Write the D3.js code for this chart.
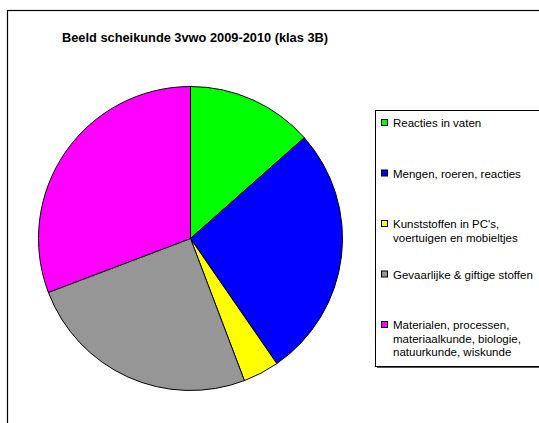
<!DOCTYPE html>
<html lang="nl">
<head>
  <meta charset="utf-8">
  <script src="https://d3js.org/d3.v7.min.js"></script>
  <style>
    body { margin: 0; background: #fff; }
    text { font-family: "Liberation Sans", Arial, sans-serif; fill: #000; }
  </style>
</head>
<body>
  <svg id="chart" width="539" height="423"></svg>

  <script>
    // data
    const title = "Beeld scheikunde 3vwo 2009-2010 (klas 3B)";
    const categories = [
      ["Reacties in vaten"],
      ["Mengen, roeren, reacties"],
      ["Kunststoffen in PC's,", "voertuigen en mobieltjes"],
      ["Gevaarlijke & giftige stoffen"],
      ["Materialen, processen,", "materiaalkunde, biologie,", "natuurkunde, wiskunde"]
    ];
    const values = [7, 14, 2, 13, 16];
    const colors = ["#00ff00", "#0000ff", "#ffff00", "#969696", "#ff00ff"];

    const svg = d3.select("svg#chart");

    // outer chart frame (runs off the right and bottom edge)
    svg.append("rect")
      .attr("x", 7.5).attr("y", 10.5)
      .attr("width", 600).attr("height", 500)
      .attr("fill", "#fff")
      .attr("stroke", "#000")
      .attr("stroke-width", 1.2);

    svg.append("text")
      .attr("x", 62)
      .attr("y", 42)
      .attr("font-size", 12.8)
      .attr("font-weight", "bold")
      .text(title);

    // pie
    const cx = 190.5, cy = 238.5, r = 152;
    const pie = d3.pie().sort(null).value(d => d);
    const arc = d3.arc().innerRadius(0).outerRadius(r);

    svg.append("g")
      .attr("transform", "translate(" + cx + "," + cy + ")")
      .selectAll("path")
      .data(pie(values))
      .join("path")
      .attr("d", arc)
      .attr("fill", (d, i) => colors[i])
      .attr("stroke", "#000")
      .attr("stroke-width", 1)
      .attr("stroke-linejoin", "round");

    // legend box with a small shadow at the bottom
    const lg = svg.append("g");
    lg.append("rect")
      .attr("x", 377).attr("y", 112)
      .attr("width", 300).attr("height", 256)
      .attr("fill", "#555");
    lg.append("rect")
      .attr("x", 375.5).attr("y", 110.5)
      .attr("width", 300).attr("height", 256)
      .attr("fill", "#fff")
      .attr("stroke", "#000")
      .attr("stroke-width", 1);

    const itemY = d3.scaleLinear().domain([0, 4]).range([123, 325]);
    const lineH = 13.5;

    const items = lg.selectAll("g.item")
      .data(categories)
      .join("g")
      .attr("class", "item")
      .attr("transform", (d, i) => "translate(0," + itemY(i) + ")");

    items.append("rect")
      .attr("x", 381.5).attr("y", -3.5)
      .attr("width", 6).attr("height", 6)
      .attr("fill", (d, i) => colors[i])
      .attr("stroke", "#000")
      .attr("stroke-width", 1);

    items.append("text")
      .attr("x", 393)
      .attr("y", 4)
      .attr("font-size", 11.5)
      .selectAll("tspan")
      .data(d => d)
      .join("tspan")
      .attr("x", 393)
      .attr("dy", (d, i) => i === 0 ? 0 : lineH)
      .text(d => d);
  </script>
</body>
</html>
